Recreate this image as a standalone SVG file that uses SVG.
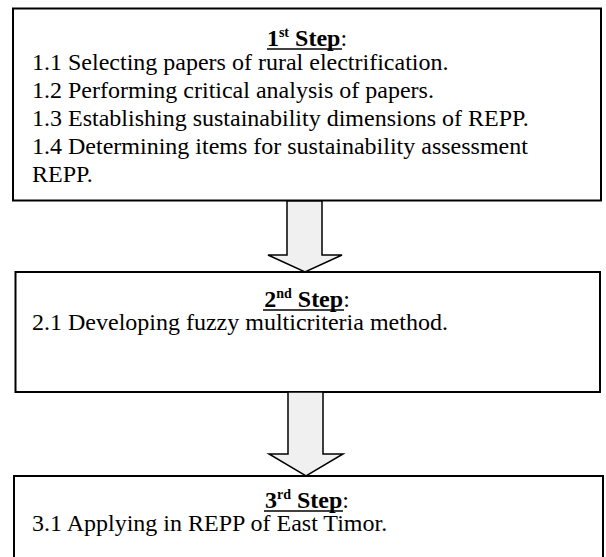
<svg xmlns="http://www.w3.org/2000/svg" width="606" height="557" viewBox="0 0 606 557">
<style>
.box{fill:#fff;stroke:#000;stroke-width:2}
text{font-family:'Liberation Serif','Times New Roman','DejaVu Serif',serif;font-size:24px;fill:#000}
.h{font-weight:bold}
.sup{font-size:14px}
.arr{fill:#f0f0f0;stroke:#000;stroke-width:1.5;stroke-linejoin:miter}
.ul{stroke:#000;stroke-width:1.4}
</style>
<rect width="606" height="557" fill="#fff"/>
<g id="step1">
<rect class="box" x="13" y="8.5" width="588" height="192"/>
<text x="307" y="46" text-anchor="middle"><tspan class="h">1<tspan class="sup" dy="-9">st</tspan><tspan dy="9"> Step</tspan></tspan>:</text>
<line class="ul" x1="267" y1="49" x2="342" y2="49"/>
<text x="32" y="70">1.1 Selecting papers of rural electrification.</text>
<text x="32" y="98">1.2 Performing critical analysis of papers.</text>
<text x="32" y="126">1.3 Establishing sustainability dimensions of REPP.</text>
<text x="32" y="154">1.4 Determining items for sustainability assessment</text>
<text x="32" y="182">REPP.</text>
</g>
<g id="step2">
<rect class="box" x="15.5" y="272" width="584.5" height="120"/>
<text x="307" y="307" text-anchor="middle"><tspan class="h">2<tspan class="sup" dy="-9">nd</tspan><tspan dy="9"> Step</tspan></tspan>:</text>
<line class="ul" x1="263" y1="310" x2="344" y2="310"/>
<text x="32" y="330">2.1 Developing fuzzy multicriteria method.</text>
</g>
<g id="step3">
<rect class="box" x="14" y="476" width="589" height="100"/>
<text x="307" y="508" text-anchor="middle"><tspan class="h">3<tspan class="sup" dy="-9">rd</tspan><tspan dy="9"> Step</tspan></tspan>:</text>
<line class="ul" x1="264" y1="511" x2="343" y2="511"/>
<text x="32" y="531">3.1 Applying in REPP of East Timor.</text>
</g>
<g id="connectors">
<polygon class="arr" points="287,201 322,201 322,255 342,255 305,272 268,255 287,255"/>
<polygon class="arr" points="288,392 323,392 323,454 343,454 306,476 269,454 288,454"/>
</g>
</svg>
